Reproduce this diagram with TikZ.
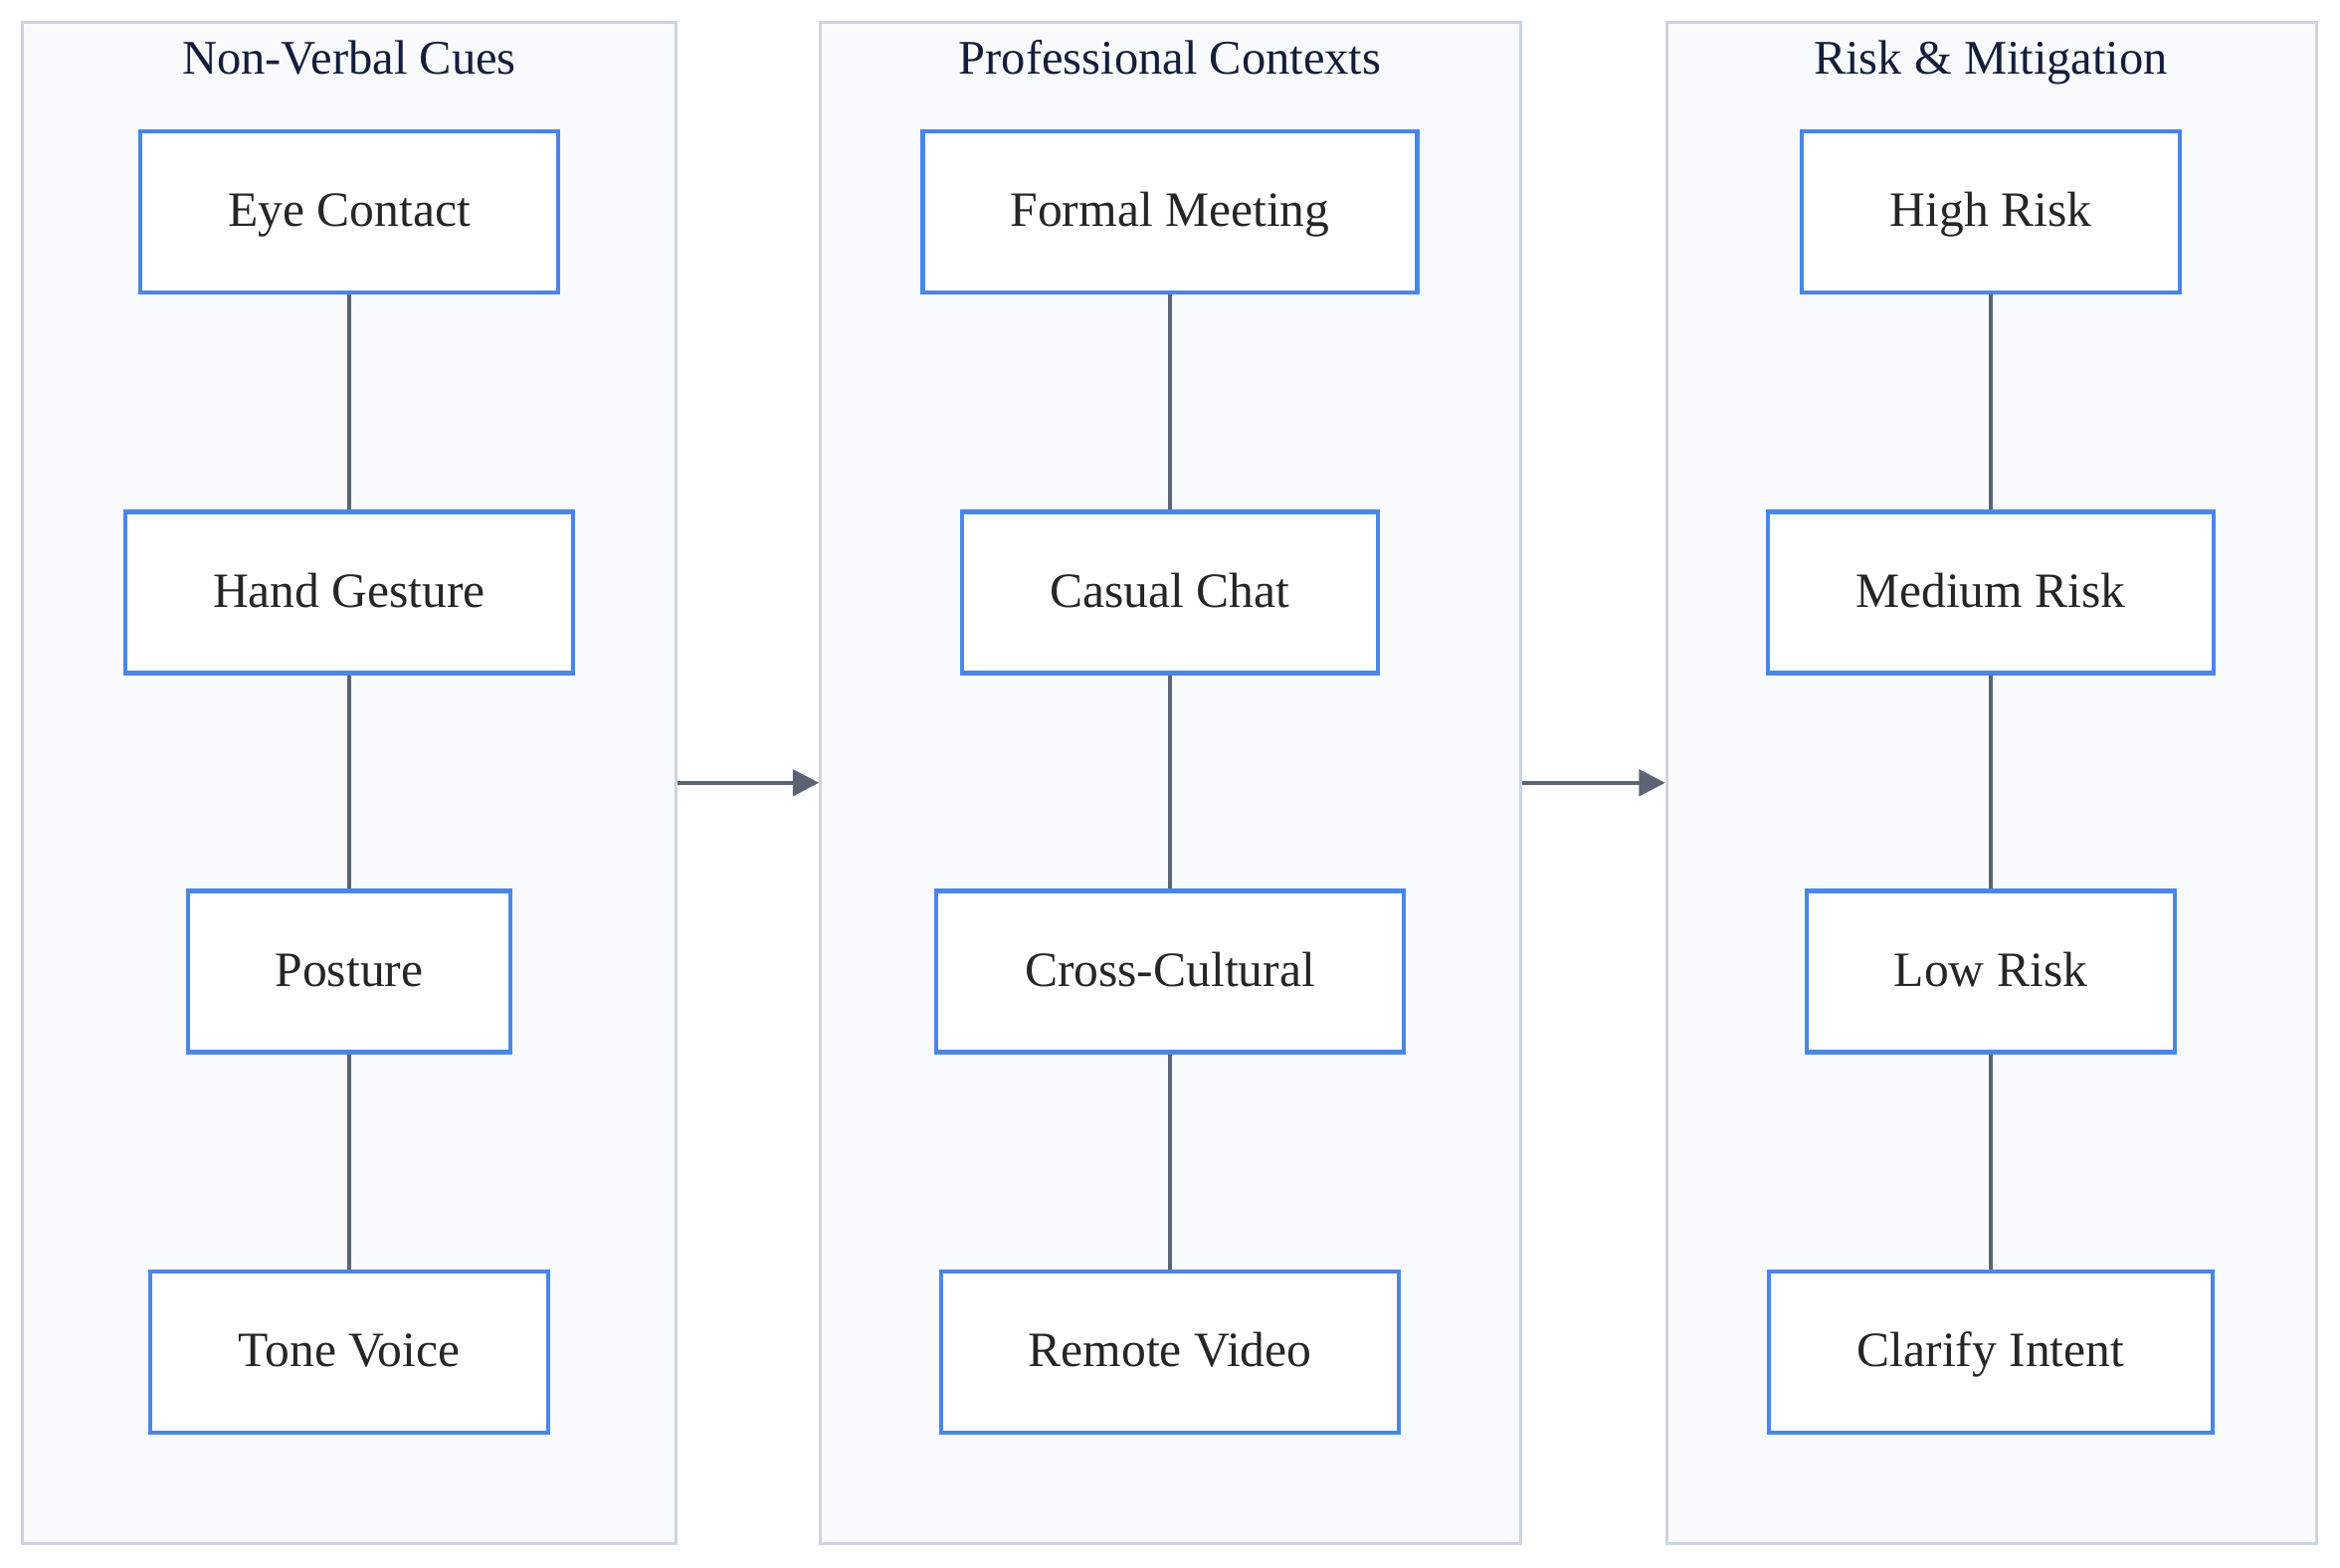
\documentclass[tikz,border=0pt]{standalone}
\usepackage{fontspec}
\setmainfont{Liberation Serif}
\usetikzlibrary{arrows.meta}
\definecolor{panelFill}{RGB}{248,250,252}
\definecolor{panelLine}{RGB}{203,213,225}
\definecolor{boxLine}{RGB}{74,134,232}
\definecolor{edgeColor}{RGB}{90,100,115}
\definecolor{titleText}{RGB}{20,30,60}
\begin{document}
\begin{tikzpicture}[x=0.01cm,y=-0.01cm,
  panel/.style={draw=panelLine,fill=panelFill,line width=0.6pt},
  box/.style={draw=boxLine,fill=white,line width=0.8pt,minimum height=1.08cm,text height=1.6ex,text depth=0.4ex,font=\fontsize{9.4}{12}\selectfont,text=black!85},
  title/.style={font=\fontsize{9.2}{12}\selectfont,text=titleText,text height=1.6ex,text depth=0.4ex},
  link/.style={draw=edgeColor,line width=0.6pt},
  flow/.style={draw=edgeColor,line width=0.8pt,-{Triangle[length=5pt,width=5pt]}}]
\useasboundingbox (0,0) rectangle (1568,1050);
% panels
\node[panel,minimum width=4.38cm,minimum height=10.19cm,inner sep=0pt] (p1) at (234,524.5) {};
\node[panel,minimum width=4.69cm,minimum height=10.19cm,inner sep=0pt] (p2) at (784.5,524.5) {};
\node[panel,minimum width=4.35cm,minimum height=10.19cm,inner sep=0pt] (p3) at (1334.5,524.5) {};
\node[title] (t1) at (234,40) {Non-Verbal Cues};
\node[title] (t2) at (784,40) {Professional Contexts};
\node[title] (t3) at (1334,40) {Risk \& Mitigation};
% column 1
\node[box,minimum width=2.80cm] (eye) at (234,142) {Eye Contact};
\node[box,minimum width=3.00cm] (hand) at (234,397) {Hand Gesture};
\node[box,minimum width=2.16cm] (post) at (234,651) {Posture};
\node[box,minimum width=2.66cm] (tone) at (234,906) {Tone Voice};
% column 2
\node[box,minimum width=3.31cm] (formal) at (784,142) {Formal Meeting};
\node[box,minimum width=2.78cm] (casual) at (784,397) {Casual Chat};
\node[box,minimum width=3.13cm] (cross) at (784,651) {Cross-Cultural};
\node[box,minimum width=3.07cm] (remote) at (784,906) {Remote Video};
% column 3
\node[box,minimum width=2.53cm] (high) at (1334,142) {High Risk};
\node[box,minimum width=2.99cm] (medium) at (1334,397) {Medium Risk};
\node[box,minimum width=2.47cm] (low) at (1334,651) {Low Risk};
\node[box,minimum width=2.97cm] (clarify) at (1334,906) {Clarify Intent};
% links
\draw[link] (eye) -- (hand) -- (post) -- (tone);
\draw[link] (formal) -- (casual) -- (cross) -- (remote);
\draw[link] (high) -- (medium) -- (low) -- (clarify);
\draw[flow] (p1.east) -- (p2.west);
\draw[flow] (p2.east) -- (p3.west);
\end{tikzpicture}
\end{document}
